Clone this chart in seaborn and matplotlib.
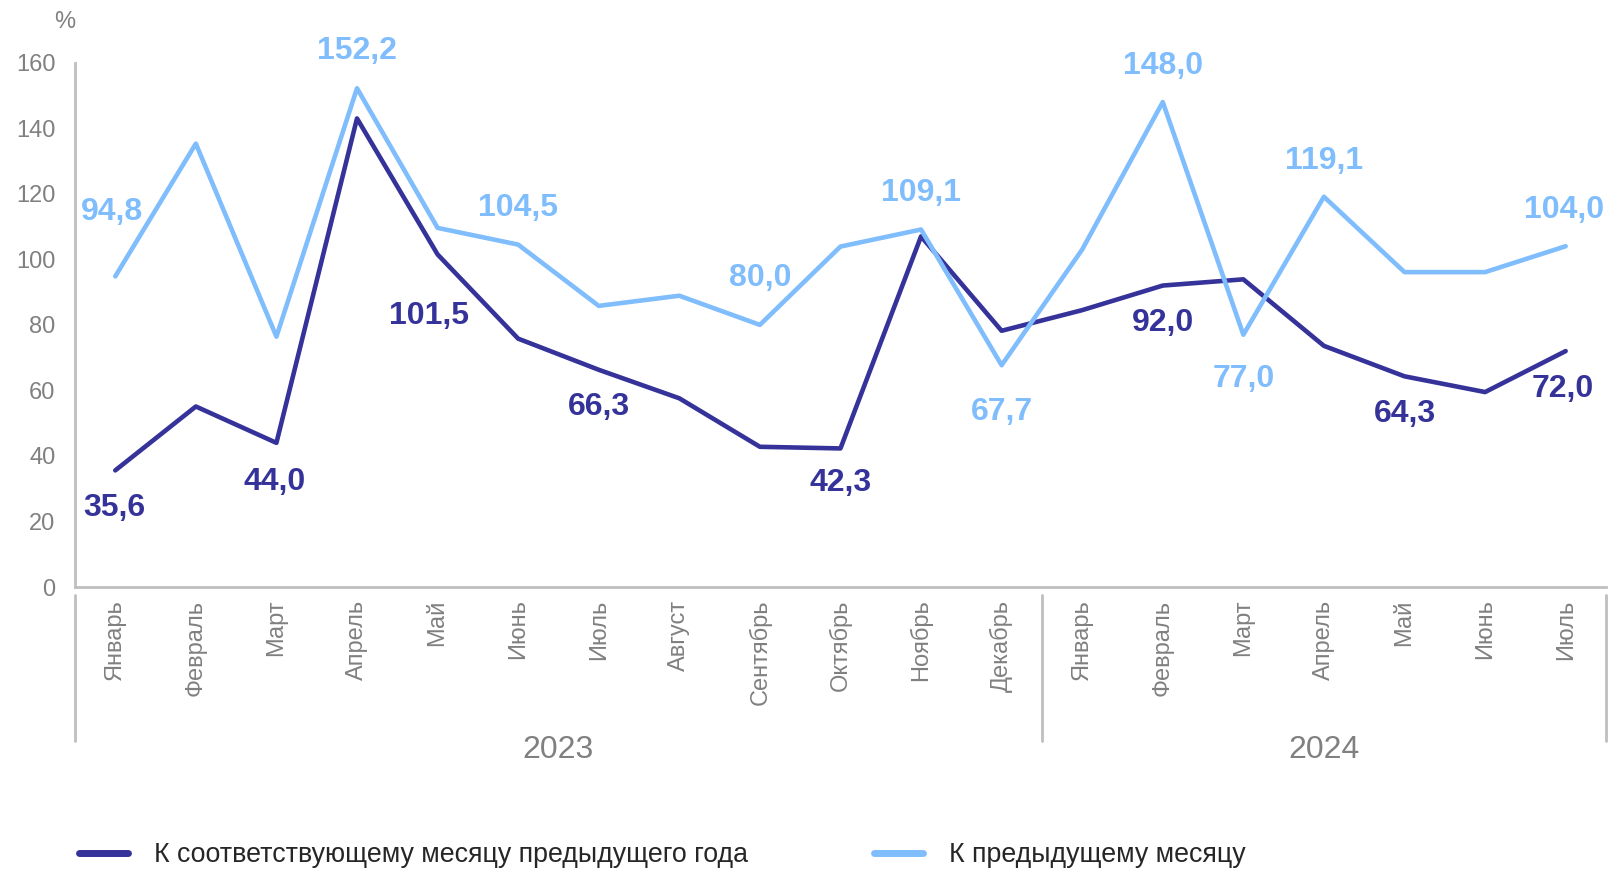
import numpy as np
import pandas as pd
import matplotlib
matplotlib.use("Agg")
import matplotlib.pyplot as plt
import matplotlib.transforms as mtransforms
import seaborn as sns

months = ['Январь', 'Февраль', 'Март', 'Апрель', 'Май', 'Июнь', 'Июль', 'Август',
          'Сентябрь', 'Октябрь', 'Ноябрь', 'Декабрь',
          'Январь', 'Февраль', 'Март', 'Апрель', 'Май', 'Июнь', 'Июль']
years = ['2023', '2024']
months_per_year = [12, 7]

name_yoy = 'К соответствующему месяцу предыдущего года'
name_mom = 'К предыдущему месяцу'

yoy = [35.6, 55.1, 44.0, 143.0, 101.5, 75.8, 66.3, 57.6, 42.8, 42.3, 107.0, 78.2,
       84.5, 92.0, 93.9, 73.6, 64.3, 59.5, 72.0]
mom = [94.8, 135.3, 76.4, 152.2, 109.6, 104.5, 85.8, 88.9, 80.0, 103.9, 109.1, 67.7,
       103.0, 148.0, 77.0, 119.1, 96.1, 96.1, 104.0]

# which points carry a value label
yoy_labeled = [0, 2, 4, 6, 9, 13, 16, 18]
mom_labeled = [0, 3, 5, 8, 10, 11, 13, 14, 15, 18]

# label offsets in points (dx, dy)
yoy_offsets = {0: (-1, -27), 2: (-1, -28), 4: (-6, -44), 6: (0, -27), 9: (0, -25),
               13: (0, -27), 16: (0, -27), 18: (-2, -27)}
mom_offsets = {0: (-2, 46), 3: (0, 27), 5: (0, 26), 8: (0, 34), 10: (0, 26),
               11: (0, -34), 13: (0, 26), 14: (0, -32), 15: (0, 26), 18: (-1, 26)}

DARK = '#35339A'
LIGHT = '#80BDFD'
GRAY = '#808080'
LINEGRAY = '#BFBFBF'

sns.set_theme(style='white')
plt.rcParams['font.family'] = ['Liberation Sans', 'DejaVu Sans']

df = pd.DataFrame({
    'pos': list(range(len(months))) * 2,
    'value': yoy + mom,
    'series': [name_yoy] * len(yoy) + [name_mom] * len(mom),
})

fig = plt.figure(figsize=(16.09, 8.71), dpi=100)
ax = fig.add_axes([0.0466, 0.326, 0.9515, 0.602])

sns.lineplot(data=df, x='pos', y='value', hue='series',
             palette={name_yoy: DARK, name_mom: LIGHT},
             hue_order=[name_yoy, name_mom], linewidth=3.3, ax=ax, legend=False)
# light line sits above the dark one
ax.lines[0].set_zorder(2)
ax.lines[1].set_zorder(3)

ax.set_xlim(-0.5, len(months) - 0.5)
ax.set_ylim(0, 160)
ax.set_yticks(np.arange(0, 161, 20))
ax.set_xticks(range(len(months)))
ax.set_xticklabels(months, rotation=90, va='top', ha='center')
ax.tick_params(axis='y', labelsize=17, labelcolor=GRAY, length=0, pad=14)
ax.tick_params(axis='x', labelsize=17, labelcolor=GRAY, length=0, pad=9)
ax.set_xlabel('')
ax.set_ylabel('')
for s in ['top', 'right']:
    ax.spines[s].set_visible(False)
for s in ['left', 'bottom']:
    ax.spines[s].set_color(LINEGRAY)
    ax.spines[s].set_linewidth(2)

ax.text(0.0, 1.078, '%', transform=ax.transAxes, ha='right', va='center',
        fontsize=17, color=GRAY)


def fmt(v):
    return f'{v:.1f}'.replace('.', ',')


for i in yoy_labeled:
    ax.annotate(fmt(yoy[i]), (i, yoy[i]), xytext=yoy_offsets[i], textcoords='offset points',
                ha='center', va='center', fontsize=23, fontweight='bold', color=DARK,
                zorder=5)
for i in mom_labeled:
    ax.annotate(fmt(mom[i]), (i, mom[i]), xytext=mom_offsets[i], textcoords='offset points',
                ha='center', va='center', fontsize=23, fontweight='bold', color=LIGHT,
                zorder=5, annotation_clip=False)

# multi-level category axis: separators and year labels
trans = mtransforms.blended_transform_factory(ax.transData, ax.transAxes)
edges = np.concatenate([[0], np.cumsum(months_per_year)]) - 0.5
for e in edges:
    ax.plot([e, e], [-0.015, -0.294], transform=trans, color=LINEGRAY, lw=2,
            clip_on=False)
for k, yr in enumerate(years):
    ax.text((edges[k] + edges[k + 1]) / 2, -0.31, yr, transform=trans, ha='center',
            va='center', fontsize=23, color=GRAY)

# legend
handles = [matplotlib.lines.Line2D([], [], color=DARK, lw=5),
           matplotlib.lines.Line2D([], [], color=LIGHT, lw=5)]
fig.legend(handles, [name_yoy, name_mom], loc='center left', bbox_to_anchor=(0.034, 0.018),
           ncol=2, frameon=False, fontsize=19.3, handlelength=1.85, handletextpad=0.95,
           columnspacing=4.7, labelcolor='#262626')

fig.savefig('out.png', dpi=100)
